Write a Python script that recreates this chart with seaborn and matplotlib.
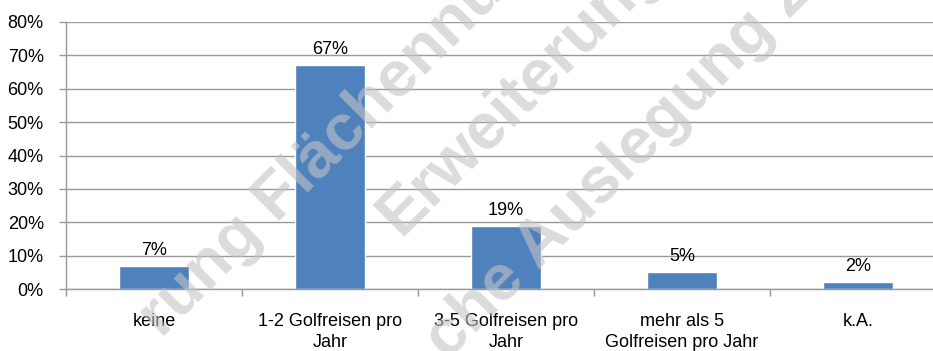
import matplotlib
matplotlib.use("Agg")
import matplotlib.pyplot as plt
import seaborn as sns
import pandas as pd
from matplotlib.ticker import FixedLocator, FuncFormatter

categories = ["keine", "1-2 Golfreisen pro\nJahr", "3-5 Golfreisen pro\nJahr",
              "mehr als 5\nGolfreisen pro Jahr", "k.A."]
values = [7, 67, 19, 5, 2]
value_labels = ["7%", "67%", "19%", "5%", "2%"]
y_ticks = [0, 10, 20, 30, 40, 50, 60, 70, 80]
watermarks = ["rung Flächennut", "Erweiterung", "che Auslegung 23"]

sns.set_theme(style="white")
plt.rcParams['font.family'] = ['Liberation Sans', 'DejaVu Sans']

df = pd.DataFrame({"cat": categories, "val": values})

W, H = 933, 351
fig = plt.figure(figsize=(W / 100, H / 100), dpi=100)
ax = fig.add_axes([66 / W, 1 - 289 / H, 880 / W, 267 / H])

sns.barplot(data=df, x="cat", y="val", color="#4F81BD", width=0.4, saturation=1,
            ax=ax, zorder=2)
ax.set_xlim(-0.5, 4.5)
ax.set_ylim(0, 80)
ax.set_xlabel("")
ax.set_ylabel("")

grid_c = "#999999"
fs = 13
ax.yaxis.set_major_locator(FixedLocator(y_ticks))
ax.yaxis.set_major_formatter(FuncFormatter(lambda v, p: f"{int(round(v))}%"))
ax.grid(axis="y", color=grid_c, linewidth=1.0, zorder=0)
ax.set_axisbelow(True)
ax.tick_params(axis="y", which="major", left=True, length=5, width=1, color=grid_c,
               labelsize=fs, pad=11, labelcolor="black")
ax.xaxis.set_minor_locator(FixedLocator([-0.5, 0.5, 1.5, 2.5, 3.5, 4.5]))
ax.tick_params(axis="x", which="major", bottom=False, length=0, labelsize=fs,
               pad=17, labelcolor="black")
ax.tick_params(axis="x", which="minor", bottom=True, length=5, width=1, color=grid_c)
for lab in ax.get_xticklabels():
    lab.set_linespacing(1.3)

for s in ["top", "right"]:
    ax.spines[s].set_visible(False)
for s in ["left", "bottom"]:
    ax.spines[s].set_color(grid_c)
    ax.spines[s].set_linewidth(1.0)

ax.bar_label(ax.containers[0], labels=value_labels, padding=5, fontsize=fs,
             color="black")

# watermark
wm_pos = [(330, 146), (522, 92), (632, 152)]
for txt, (px, py) in zip(watermarks, wm_pos):
    fig.text(px / W, 1 - py / H, txt, fontsize=47, fontweight="bold",
             color="#c4c4c4", alpha=0.6, rotation=45, rotation_mode="anchor",
             ha="center", va="center", zorder=10)

fig.savefig("out.png", dpi=100)
